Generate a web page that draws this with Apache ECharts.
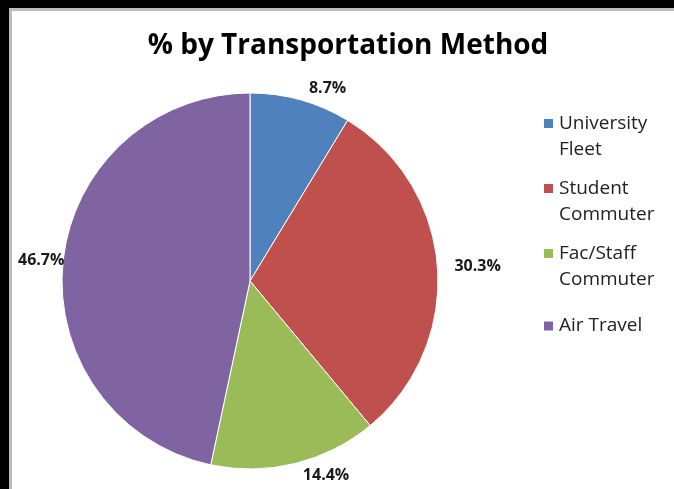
<!DOCTYPE html>
<html>
<head>
<meta charset="utf-8">
<script src="https://cdn.jsdelivr.net/npm/echarts@6/dist/echarts.min.js"></script>
<style>
  html, body { margin: 0; padding: 0; width: 674px; height: 489px; background: #000; overflow: hidden; }
  #frame { position: absolute; left: 9px; top: 8px; width: 680px; height: 500px;
           background: #fff; border-left: 3px solid #bdbdbd; border-top: 3px solid #bdbdbd; }
  #chart { position: absolute; left: 0; top: 0; width: 674px; height: 489px; }
</style>
</head>
<body>
<div id="frame"></div>
<div id="chart"></div>
<script>
// Share by transportation method (percent)
const categories = ['University Fleet', 'Student Commuter', 'Fac/Staff Commuter', 'Air Travel'];
const legendLabels = ['University\nFleet', 'Student\nCommuter', 'Fac/Staff\nCommuter', 'Air Travel'];
const shares = [8.7, 30.3, 14.4, 46.7];
const colors = ['#4F81BD', '#C0504D', '#9BBB59', '#8064A2'];

const font = '"Open Sans", Lato, sans-serif';
const chart = echarts.init(document.getElementById('chart'), null, { renderer: 'canvas' });

// Legend swatches: the square sits beside the first text line. A near-invisible
// dot stretches the icon box so it spans the wrapped label.
const ICON_H = 38;
const iconTop = 'path://M0,0h11v11h-11z M0,' + ICON_H + 'h0.01v0.01h-0.01z';
const iconMid = 'path://M0,0h0.01v0.01h-0.01z M0,' + (ICON_H / 2 - 5.5) + 'h11v11h-11z M0,' + ICON_H + 'h0.01v0.01h-0.01z';

const legendData = categories.map((name, i) => ({
  name: name,
  icon: legendLabels[i].indexOf('\n') >= 0 ? iconTop : iconMid
}));

// Keep data labels inside the framed plot area
const PLOT_LEFT = 18;

chart.setOption({
  backgroundColor: 'transparent',
  color: colors,
  title: {
    text: '% by Transportation Method',
    left: 343, top: 27,
    textAlign: 'center',
    textStyle: { fontFamily: font, fontWeight: 'bold', fontSize: 28, color: '#000' }
  },
  legend: {
    orient: 'vertical',
    left: 537, top: 106,
    itemWidth: 11, itemHeight: ICON_H,
    itemGap: 13,
    data: legendData,
    formatter: name => legendLabels[categories.indexOf(name)],
    textStyle: { fontFamily: font, fontSize: 19, lineHeight: 26, color: '#222' }
  },
  series: [{
    type: 'pie',
    center: [250, 281],
    radius: 188,
    startAngle: 90,
    clockwise: true,
    silent: true,
    data: categories.map((name, i) => ({ name: name, value: shares[i] })),
    label: {
      show: true,
      position: 'outside',
      overflow: 'none',
      formatter: p => p.value.toFixed(1) + '%',
      fontFamily: font, fontWeight: 'bold', fontSize: 16, color: '#1a1a1a'
    },
    labelLine: { show: false, length: 12, length2: 0 },
    labelLayout: p => (p.labelRect.x < PLOT_LEFT
      ? { x: PLOT_LEFT, align: 'left' }
      : {}),
    itemStyle: { borderColor: '#fff', borderWidth: 1 }
  }]
});
</script>
</body>
</html>
